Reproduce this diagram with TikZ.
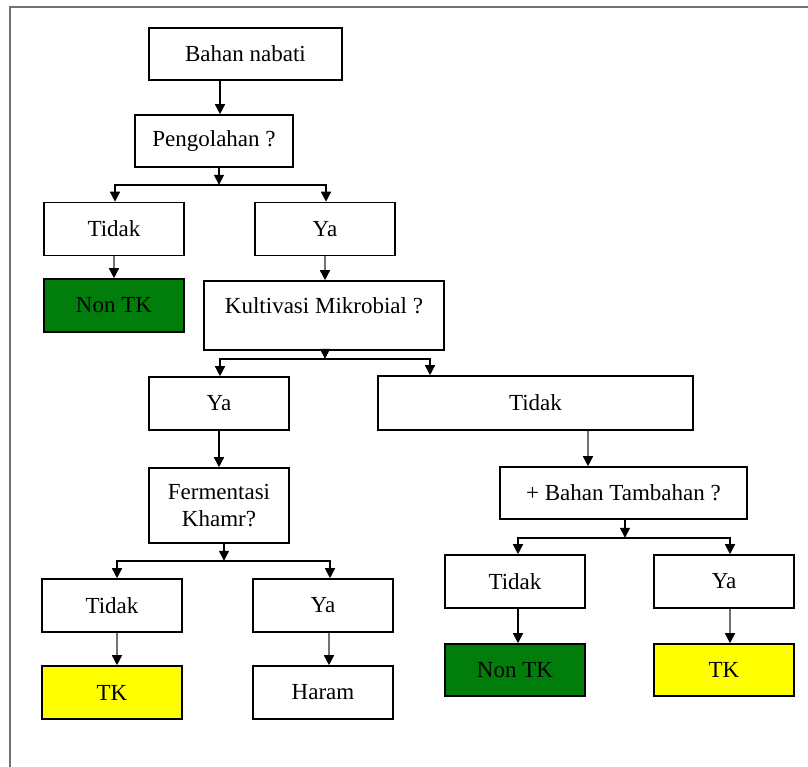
\documentclass[tikz,border=0pt]{standalone}
\usepackage{fontspec}
\setmainfont{Liberation Serif}
\usetikzlibrary{arrows.meta,positioning}
\definecolor{tkgreen}{RGB}{0,125,10}
\definecolor{tkyellow}{RGB}{255,255,0}
\tikzset{
    raw box/.style={rectangle, draw, line width=1.6pt, align=center, inner sep=2pt, font=\fontsize{23}{27}\selectfont},
    plain box/.style={raw box, fill=white, minimum width=140pt, minimum height=53pt},
    nontk box/.style={plain box, fill=tkgreen},
    tk box/.style={plain box, fill=tkyellow},
    link/.style={-{Triangle[length=10pt,width=10pt]}, line width=1.5pt},
    link gray/.style={link, draw=black!55, -{Triangle[length=10pt,width=10pt,color=black]}},
    frame/.style={draw=black!55, line width=2pt}
}

\begin{document}
\begin{tikzpicture}[x=1pt, y=-1pt]
	\useasboundingbox (0,0) rectangle (808,767);
	\draw[frame] (808,7) -- (10,7) -- (10,767);

	% top of the tree
	\node[plain box, minimum width=193pt, minimum height=52pt] (bahan) at (245.5,54) {Bahan nabati};
	\node[plain box, minimum width=158pt, minimum height=52pt] (olah) at (214,141) {Pengolahan ?};
	\node[plain box] (tidak1) at (114,229) {Tidak};
	\node[plain box] (ya1) at (325,229) {Ya};
	\node[nontk box] (nontk1) at (114,305.5) {Non TK};
	\node[plain box, minimum width=240pt, minimum height=69pt, text height=16pt, text depth=20pt] (kultur) at (324,315.5) {Kultivasi Mikrobial ?};

	% left branch
	\node[plain box] (ya2) at (219,403.5) {Ya};
	\node[plain box, minimum height=75pt] (ferment) at (219,505.5) {Fermentasi\\Khamr?};
	\node[plain box] (tidak3) at (112,605.5) {Tidak};
	\node[plain box] (ya3) at (323,605.5) {Ya};
	\node[tk box] (tk1) at (112,692.5) {TK};
	\node[plain box] (haram) at (323,692.5) {Haram};

	% right branch
	\node[plain box, minimum width=315pt, minimum height=54pt] (tidak2) at (535.5,403) {Tidak};
	\node[plain box, minimum width=247pt, minimum height=52pt] (tambah) at (623.5,493) {+ Bahan Tambahan ?};
	\node[plain box] (tidak4) at (515,581.5) {Tidak};
	\node[plain box] (ya4) at (724,581.5) {Ya};
	\node[nontk box, minimum height=52pt] (nontk2) at (515,670) {Non TK};
	\node[tk box, minimum height=52pt] (tk2) at (724,670) {TK};

	% connectors
	\draw[link] ([xshift=-25.5]bahan.south) -- ([xshift=-25.5]bahan.south |- olah.north);
	\draw[link] ([xshift=5]olah.south) -- ++(0,17) coordinate (j1);
	\draw[link] (j1) -| ([xshift=1]tidak1.north);
	\draw[link] (j1) -| ([xshift=1]ya1.north);
	\draw[link gray] (tidak1) -- (nontk1);
	\draw[link gray] (ya1) -- (ya1.south |- kultur.north);

	\draw[link] ([xshift=1]kultur.south) -- ++(0,8) coordinate (j2);
	\draw[link] (j2) -| ([xshift=1]ya2.north);
	\draw[link] (j2) -| ([xshift=-105.5]tidak2.north);
	\draw[link] (ya2) -- (ferment);
	\draw[link gray] ([xshift=52.5]tidak2.south) -- ([xshift=52.5]tidak2.south |- tambah.north);

	\draw[link] ([xshift=5]ferment.south) -- ++(0,17) coordinate (j3);
	\draw[link] (j3) -| ([xshift=5]tidak3.north);
	\draw[link] (j3) -| ([xshift=7]ya3.north);
	\draw[link gray] ([xshift=5]tidak3.south) -- ([xshift=5]tk1.north);
	\draw[link gray] ([xshift=6]ya3.south) -- ([xshift=6]haram.north);

	\draw[link] ([xshift=1.5]tambah.south) -- ++(0,18) coordinate (j4);
	\draw[link] (j4) -| ([xshift=3]tidak4.north);
	\draw[link] (j4) -| ([xshift=6]ya4.north);
	\draw[link] ([xshift=3]tidak4.south) -- ([xshift=3]nontk2.north);
	\draw[link gray] ([xshift=6]ya4.south) -- ([xshift=6]tk2.north);
\end{tikzpicture}
\end{document}
